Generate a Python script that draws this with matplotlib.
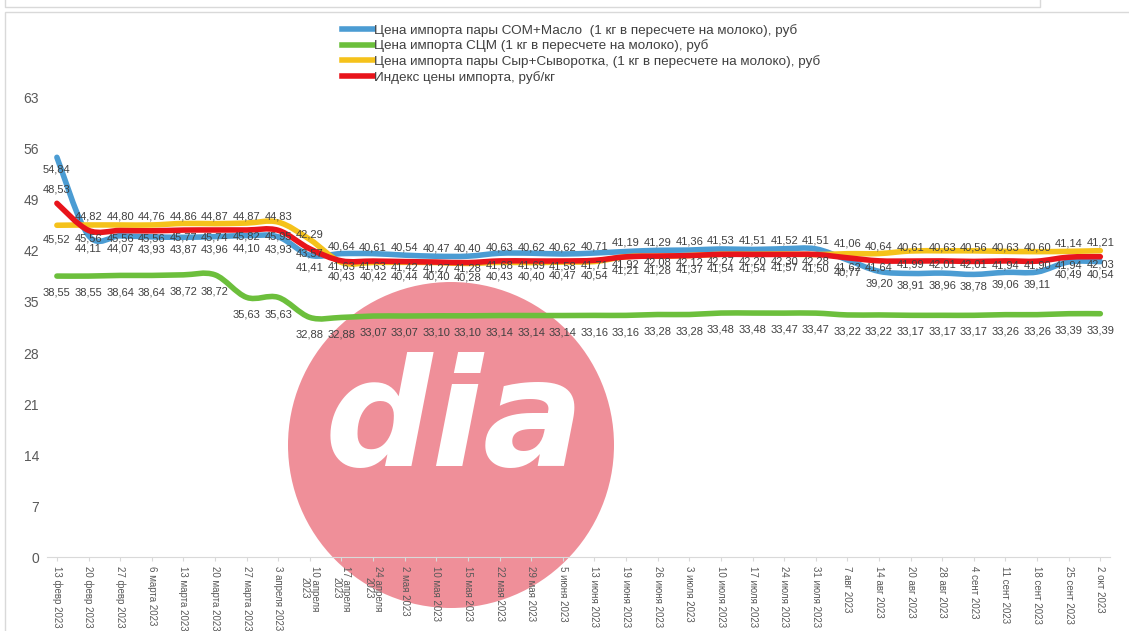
import matplotlib.pyplot as plt
import numpy as np
from matplotlib.path import Path
from matplotlib.patches import PathPatch, Ellipse, Rectangle
from matplotlib.lines import Line2D

plt.rcParams['font.family'] = ['Liberation Sans', 'DejaVu Sans']

# даты (недели)
dates = ["13 февр 2023", "20 февр 2023", "27 февр 2023", "6 марта 2023",
         "13 марта 2023", "20 марта 2023", "27 марта 2023", "3 апреля 2023",
         "10 апреля\n2023", "17 апреля\n2023", "24 апреля\n2023", "2 мая 2023",
         "10 мая 2023", "15 мая 2023", "22 мая 2023", "29 мая 2023",
         "5 июня 2023", "13 июня 2023", "19 июня 2023", "26 июня 2023",
         "3 июля 2023", "10 июля 2023", "17 июля 2023", "24 июля 2023",
         "31 июля 2023", "7 авг 2023", "14 авг 2023", "20 авг 2023",
         "28 авг 2023", "4 сент 2023", "11 сент 2023", "18 сент 2023",
         "25 сент 2023", "2 окт 2023"]

# СОМ+Масло
som_maslo = [54.84, 44.11, 44.07, 43.93, 43.87, 43.96, 44.10, 43.93, 41.41,
             41.63, 41.63, 41.42, 41.27, 41.28, 41.68, 41.69, 41.58, 41.71,
             41.92, 42.08, 42.12, 42.27, 42.20, 42.30, 42.28, 40.77, 39.20,
             38.91, 38.96, 38.78, 39.06, 39.11, 40.49, 40.54]
# СЦМ
scm = [38.55, 38.55, 38.64, 38.64, 38.72, 38.72, 35.63, 35.63, 32.88, 32.88,
       33.07, 33.07, 33.10, 33.10, 33.14, 33.14, 33.14, 33.16, 33.16, 33.28,
       33.28, 33.48, 33.48, 33.47, 33.47, 33.22, 33.22, 33.17, 33.17, 33.17,
       33.26, 33.26, 33.39, 33.39]
# Сыр+Сыворотка
syr_syv = [45.52, 45.56, 45.56, 45.56, 45.77, 45.74, 45.82, 45.95, 43.57,
           40.43, 40.42, 40.44, 40.40, 40.28, 40.43, 40.40, 40.47, 40.54,
           41.21, 41.28, 41.37, 41.54, 41.54, 41.57, 41.50, 41.62, 41.64,
           41.99, 42.01, 42.01, 41.94, 41.90, 41.94, 42.03]
# индекс цены импорта
index = [48.53, 44.82, 44.80, 44.76, 44.86, 44.87, 44.87, 44.83, 42.29,
         40.64, 40.61, 40.54, 40.47, 40.40, 40.63, 40.62, 40.62, 40.71,
         41.19, 41.29, 41.36, 41.53, 41.51, 41.52, 41.51, 41.06, 40.64,
         40.61, 40.63, 40.56, 40.63, 40.60, 41.14, 41.21]

names = ["Цена импорта пары СОМ+Масло  (1 кг в пересчете на молоко), руб",
         "Цена импорта СЦМ (1 кг в пересчете на молоко), руб",
         "Цена импорта пары Сыр+Сыворотка, (1 кг в пересчете на молоко), руб",
         "Индекс цены импорта, руб/кг"]
colors = ['#4b9cd3', '#6cbf3c', '#f5c21b', '#e8141b']
offsets = [-9, -12, -10, 10]


def smooth_path(x, y):
    # сглаженная линия как в Excel (кривые Безье через точки)
    x = np.asarray(x, float)
    y = np.asarray(y, float)
    n = len(x)
    verts = [(x[0], y[0])]
    codes = [Path.MOVETO]
    for i in range(n - 1):
        i0 = max(i - 1, 0)
        i3 = min(i + 2, n - 1)
        c1 = (x[i] + (x[i + 1] - x[i0]) / 6, y[i] + (y[i + 1] - y[i0]) / 6)
        c2 = (x[i + 1] - (x[i3] - x[i]) / 6, y[i + 1] - (y[i3] - y[i]) / 6)
        verts += [c1, c2, (x[i + 1], y[i + 1])]
        codes += [Path.CURVE4] * 3
    return Path(verts, codes)


def fmt(v):
    return f'{v:.2f}'.replace('.', ',')


fig = plt.figure(figsize=(11.29, 6.31), dpi=100)
fig.patch.set_facecolor('white')

# рамки
fig.add_artist(Rectangle((5 / 1129, -0.05), 1.0, (631 - 12) / 631 + 0.05,
                         transform=fig.transFigure, fill=False,
                         edgecolor='#d9d9d9', lw=1))
fig.add_artist(Line2D([5 / 1129, 5 / 1129, 1040 / 1129, 1040 / 1129],
                      [1, 1 - 7 / 631, 1 - 7 / 631, 1],
                      transform=fig.transFigure, color='#d9d9d9', lw=1))

# водяной знак
fig.add_artist(Ellipse((451 / 1129, 1 - 445 / 631), 2 * 163 / 1129, 2 * 163 / 631,
                       transform=fig.transFigure, facecolor='#ef8f99',
                       edgecolor='none', zorder=-2))
fig.text(455 / 1129, 1 - 425 / 631, 'dia', color='white', fontsize=108,
         family='DejaVu Sans', fontweight='bold', style='italic',
         ha='center', va='center', zorder=-1)

ax = fig.add_axes([0.042, 0.117, 0.941, 0.728])
ax.set_facecolor('none')

x = np.arange(len(dates))
series = [som_maslo, scm, syr_syv, index]
for vals, c, off in zip(series, colors, offsets):
    ax.add_patch(PathPatch(smooth_path(x, vals), fill=False, edgecolor=c, lw=4,
                           capstyle='round', joinstyle='round'))
    for xi, v in zip(x, vals):
        ax.annotate(fmt(v), (xi, v), xytext=(0, off), textcoords='offset points',
                    ha='center', va='center', fontsize=8, color='#404040')

ax.set_xlim(-0.3, len(dates) - 0.7)
ax.set_ylim(0, 63)
ax.set_yticks(range(0, 64, 7))
ax.set_xticks(x)
ax.set_xticklabels(dates, rotation=-90, fontsize=7, color='#595959', linespacing=1.0)
ax.tick_params(axis='y', length=0, labelsize=10, labelcolor='#595959', pad=6)
ax.tick_params(axis='x', length=3, color='#d9d9d9', pad=3)
for s in ['top', 'right', 'left']:
    ax.spines[s].set_visible(False)
ax.spines['bottom'].set_color('#d9d9d9')

handles = [Line2D([], [], color=c, lw=4) for c in colors]
leg = fig.legend(handles, names, loc='upper left',
                 bbox_to_anchor=(335 / 1129, 1 - 17 / 631), frameon=False,
                 fontsize=9.7, handlelength=2.3, handletextpad=0.1,
                 labelspacing=0.2, borderpad=0)
for t in leg.get_texts():
    t.set_color('#404040')

fig.savefig('out.png', dpi=100)
